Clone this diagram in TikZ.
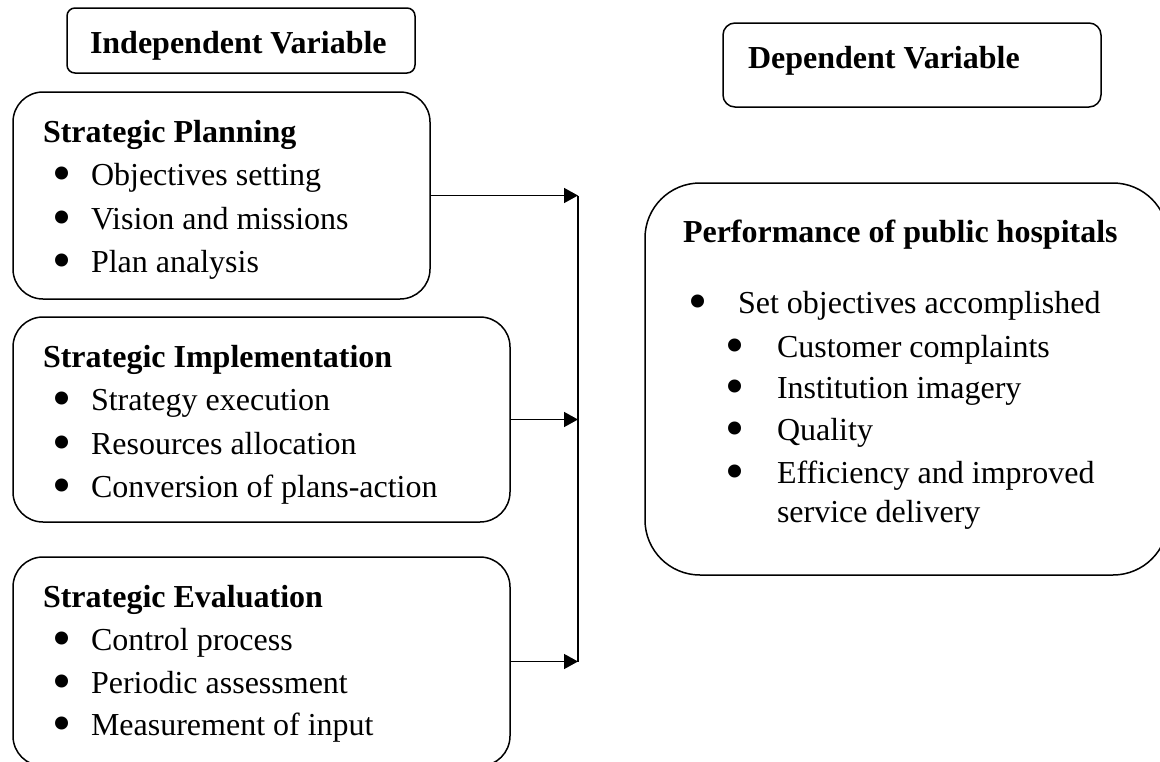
\documentclass[tikz,border=0pt]{standalone}
\usepackage{fontspec}
\setmainfont{Liberation Serif}
\usetikzlibrary{arrows.meta}
\tikzset{
  box/.style={draw, line width=1.5pt, inner sep=0pt, outer sep=0pt},
  txt/.style={anchor=base west, inner sep=0pt, outer sep=0pt, font=\fontsize{32}{38}\selectfont},
  ttl/.style={anchor=base west, inner sep=0pt, outer sep=0pt, font=\fontsize{32}{38}\selectfont\bfseries},
  arr/.style={line width=1.5pt, -{Triangle[length=14pt,width=15pt]}},
  bar/.style={line width=1.5pt}
}
\newcommand{\bl}[1]{\makebox[#1][l]{\smash{\raisebox{-6pt}{\scalebox{1.7}{\textbullet}}}}}
\begin{document}
\begin{tikzpicture}[x=1pt,y=-1pt]
\useasboundingbox (0,0) rectangle (1160,761);
% boxes
\node[box, rounded corners=8pt, minimum width=348pt, minimum height=65pt] (iv) at (241,40.5) {};
\node[box, rounded corners=12pt, minimum width=378pt, minimum height=84pt] (dv) at (912,65) {};
\node[box, rounded corners=30pt, minimum width=417pt, minimum height=207pt] (sp) at (221.5,195.5) {};
\node[box, rounded corners=30pt, minimum width=497pt, minimum height=205pt] (si) at (261.5,419.5) {};
\node[box, rounded corners=30pt, minimum width=497pt, minimum height=209pt] (se) at (261.5,661.5) {};
\node[box, rounded corners=55pt, minimum width=523pt, minimum height=392pt] (pf) at (906.5,379) {};
% headings
\node[ttl] (ivt) at (90,53) {Independent Variable};
\node[ttl] (dvt) at (748,68) {Dependent Variable};
% strategic planning
\node[ttl] (spt) at (43,142) {Strategic Planning};
\node[txt] (sp1) at (52.5,185) {\bl{38.5pt}Objectives setting};
\node[txt] (sp2) at (52.5,229) {\bl{38.5pt}Vision and missions};
\node[txt] (sp3) at (52.5,272) {\bl{38.5pt}Plan analysis};
% strategic implementation
\node[ttl] (sit) at (43,367) {Strategic Implementation};
\node[txt] (si1) at (52.5,410) {\bl{38.5pt}Strategy execution};
\node[txt] (si2) at (52.5,454) {\bl{38.5pt}Resources allocation};
\node[txt] (si3) at (52.5,497) {\bl{38.5pt}Conversion of plans-action};
% strategic evaluation
\node[ttl] (set) at (43,607) {Strategic Evaluation};
\node[txt] (se1) at (52.5,650) {\bl{38.5pt}Control process};
\node[txt] (se2) at (52.5,693) {\bl{38.5pt}Periodic assessment};
\node[txt] (se3) at (52.5,735) {\bl{38.5pt}Measurement of input};
% performance
\node[ttl] (pft) at (683,242) {Performance of public hospitals};
\node[txt] (pf1) at (688.5,313) {\bl{49.5pt}Set objectives accomplished};
\node[txt] (pf2) at (725.5,357) {\bl{51.5pt}Customer complaints};
\node[txt] (pf3) at (725.5,398) {\bl{51.5pt}Institution imagery};
\node[txt] (pf4) at (725.5,440) {\bl{51.5pt}Quality};
\node[txt] (pf5) at (725.5,483) {\bl{51.5pt}Efficiency and improved};
\node[txt] (pf6) at (777,522) {service delivery};
% connectors
\coordinate (jt) at (578,195.5);
\coordinate (jb) at (578,661.5);
\draw[bar] (jt) -- (jb);
\draw[arr] (sp.east) -- (sp.east -| jt);
\draw[arr] (si.east) -- (si.east -| jt);
\draw[arr] (se.east) -- (se.east -| jt);
\end{tikzpicture}
\end{document}
